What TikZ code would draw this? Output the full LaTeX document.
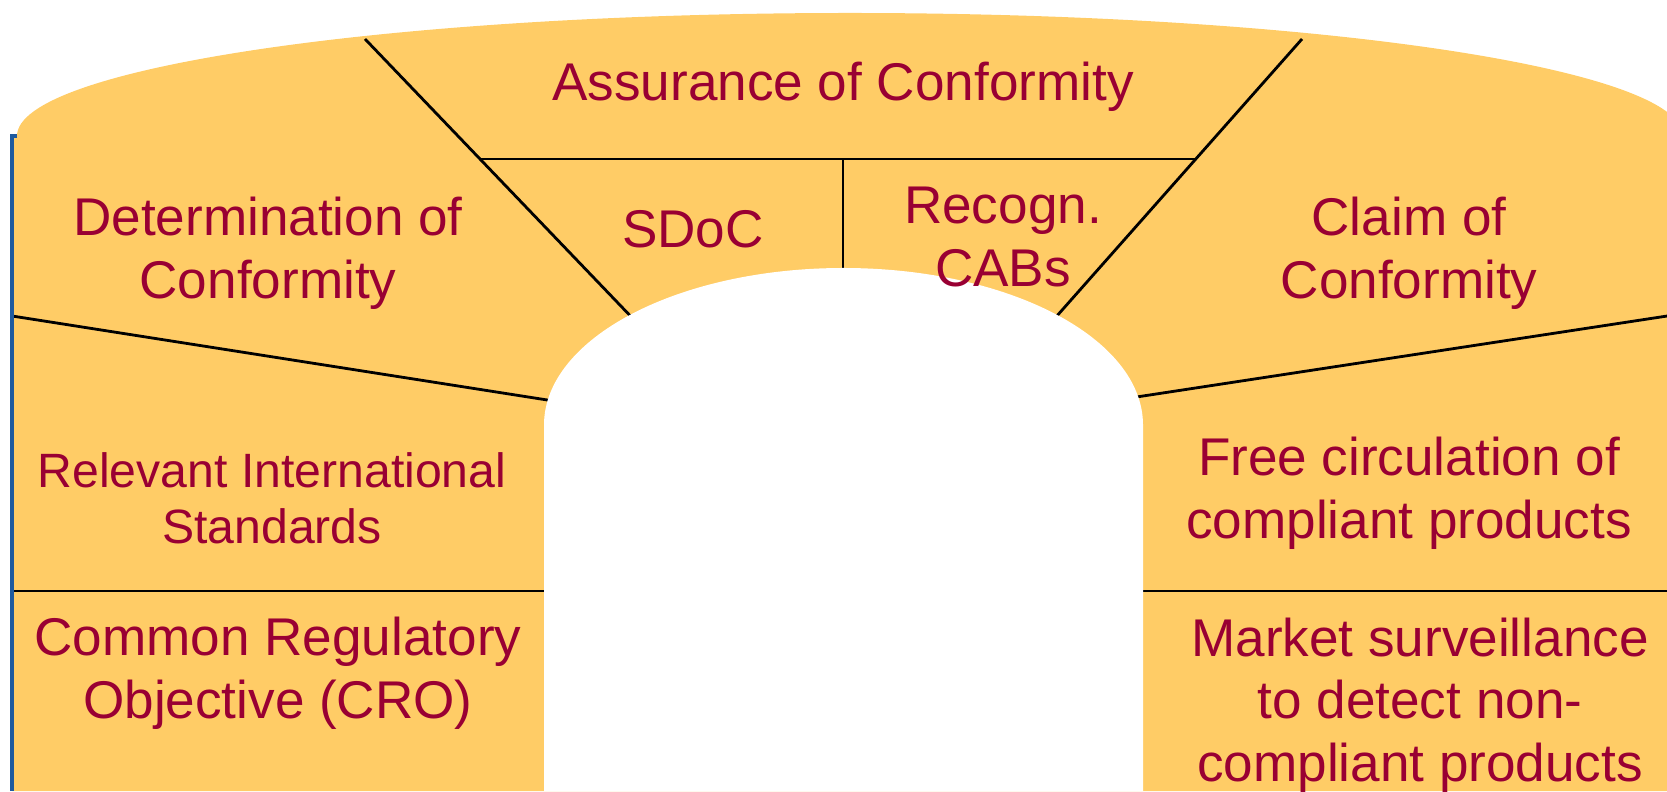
\documentclass[tikz,border=0pt]{standalone}
\usepackage{fontspec}
\setmainfont{Liberation Sans}
\usepackage{tikz}
\definecolor{archfill}{HTML}{FFCC66}
\definecolor{archtext}{HTML}{990033}
\definecolor{archblue}{HTML}{1F5A9E}
\tikzset{
  label/.style={text=archtext, align=center, inner sep=0pt,
    font=\fontsize{15.1}{17.8}\selectfont},
  smalllabel/.style={label, font=\fontsize{13.7}{16}\selectfont},
  rule/.style={line width=0.8pt, black}
}
\def\drawArch{
\coordinate (O1) at (17,655);
\coordinate (O2) at (1683,655);
\coordinate (I1) at (544,366);
\coordinate (I2) at (1143,366);
\fill[archfill] (12,0) -- (12,655) -- (O1) arc[start angle=180, end angle=0, x radius=833, y radius=123] -- (1683,0) -- cycle;
}

\begin{document}
\begin{tikzpicture}[x=0.01cm,y=0.01cm]
\useasboundingbox (0,0) rectangle (1667,791);
\clip (0,0) rectangle (1667,791);
\drawArch
\draw[rule] (12,475) -- (560,389);
\draw[rule] (1130,393) -- (1700,480);
\draw[rule] (12,200) -- (I1 |- 0,200);
\draw[rule] (I2 |- 0,200) -- (1700,200);
\draw[rule] (365,752) -- (640,465);
\draw[rule] (1302,752) -- (1048,465);
\draw[rule] (480,632) -- (1196,632);
\draw[rule] (843,632) -- (843,500);
\fill[white] (544,0) -- (I1) arc[start angle=180, end angle=0, x radius=299.5, y radius=157] -- (1143,0) -- cycle;
\draw[archblue, line width=1.1pt] (17,655) -- (12,655) -- (12,0);
\node[label] (assure) at (843,704) {Assurance of Conformity};
\node[label] (determ) at (268,538) {Determination of\\Conformity};
\node[label] (sdoc) at (693,562) {SDoC};
\node[label] (cabs) at (1003,554) {Recogn.\\CABs};
\node[label] (claim) at (1409,538) {Claim of\\Conformity};
\node[smalllabel] (standards) at (272,293) {Relevant International\\Standards};
\node[label] (freecirc) at (1409,298) {Free circulation of\\compliant products};
\node[label] (cro) at (278,118) {Common Regulatory\\Objective (CRO)};
\node[label] (market) at (1420,86) {Market surveillance\\to detect non-\\compliant products};
\end{tikzpicture}
\end{document}
